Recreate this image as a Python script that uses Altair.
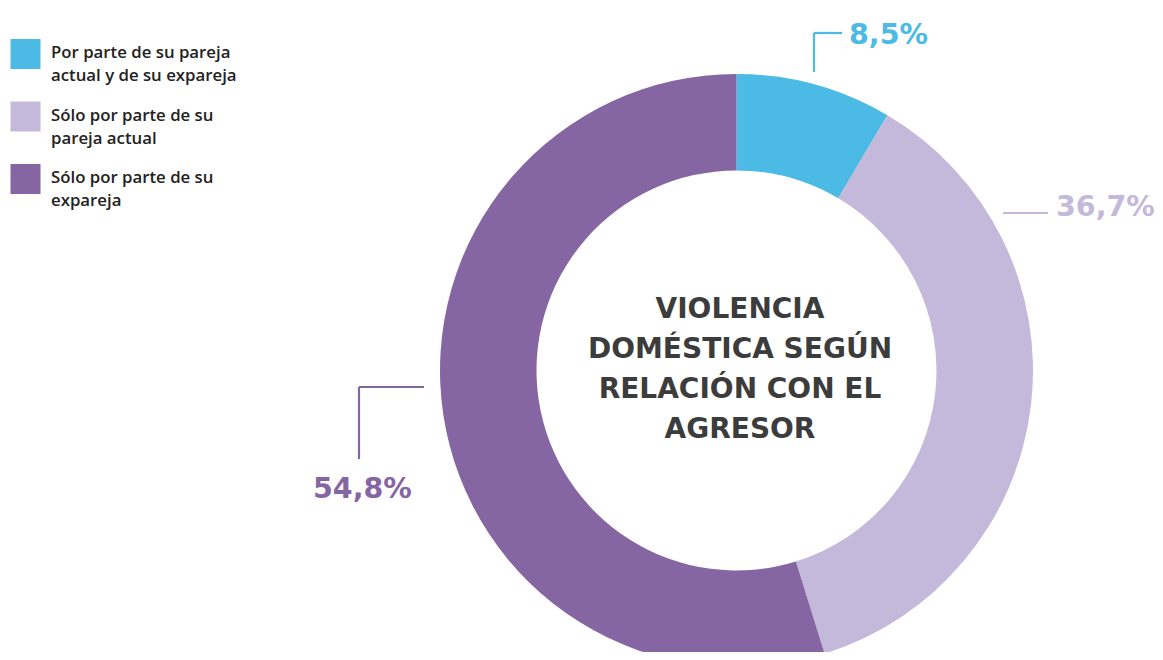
import altair as alt
import pandas as pd

categories = [
    "Por parte de su pareja actual y de su expareja",
    "Sólo por parte de su pareja actual",
    "Sólo por parte de su expareja",
]
legend_lines = [
    ["Por parte de su pareja", "actual y de su expareja"],
    ["Sólo por parte de su", "pareja actual"],
    ["Sólo por parte de su", "expareja"],
]
values = [8.5, 36.7, 54.8]
colors = ["#4BBBE6", "#C4B9DA", "#8565A2"]
center_title = ["VIOLENCIA", "DOMÉSTICA SEGÚN", "RELACIÓN CON EL", "AGRESOR"]

pct_labels = [f"{v:.1f}".replace(".", ",") + "%" for v in values]

df = pd.DataFrame({
    "cat": categories,
    "value": values,
    "idx": list(range(len(categories))),
    "lines": legend_lines,
    "pct": pct_labels,
})

color_scale = alt.Scale(domain=categories, range=colors)
base = alt.Chart(df)

arc = base.mark_arc(innerRadius=200, outerRadius=296.5).encode(
    theta=alt.Theta("value:Q", stack=True),
    order=alt.Order("idx:Q"),
    color=alt.Color("cat:N", scale=color_scale, legend=None),
    x=alt.value(728.5),
    y=alt.value(362.5),
)

leg_y = alt.Y("idx:O", scale=alt.Scale(type="point", range=[46, 171], padding=0), axis=None)
leg_sq = base.mark_square(size=900, opacity=1).encode(
    x=alt.value(17.5),
    y=leg_y,
    color=alt.Color("cat:N", scale=color_scale, legend=None),
)
leg_tx = base.mark_text(
    align="left", baseline="alphabetic", dy=4, lineHeight=23,
    font="Open Sans", fontSize=16.8, fontWeight=600, color="#222222",
).encode(
    x=alt.value(43),
    y=leg_y,
    text="lines",
)

center = alt.Chart(pd.DataFrame({"a": [0]})).mark_text(
    text=center_title, align="center", baseline="alphabetic", lineHeight=40,
    font="DejaVu Sans", fontSize=28, fontWeight="bold", color="#3C3C3C",
).encode(x=alt.value(732), y=alt.value(309.7))

def pct_text(i, x, y):
    return base.transform_filter(alt.datum.idx == i).mark_text(
        align="left", baseline="alphabetic", font="DejaVu Sans", fontSize=28.5,
        fontWeight="bold", color=colors[i],
    ).encode(x=alt.value(x), y=alt.value(y), text="pct:N")

def rule(i, x, x2, y, y2):
    return base.transform_filter(alt.datum.idx == i).mark_rule(
        color=colors[i], strokeWidth=2.2
    ).encode(x=alt.value(x), x2=alt.value(x2), y=alt.value(y), y2=alt.value(y2))

layers = [
    arc, leg_sq, leg_tx, center,
    pct_text(0, 841, 36), pct_text(1, 1048, 208), pct_text(2, 305, 490),
    rule(0, 806, 806, 25, 64), rule(0, 806, 834, 25, 25),
    rule(1, 995, 1040, 205, 205),
    rule(2, 351, 416, 379, 379), rule(2, 351, 351, 379, 451),
]

chart = alt.layer(*layers).properties(
    width=1147, height=644, padding=0,
    autosize=alt.AutoSizeParams(type="none"),
).configure_view(stroke=None)

chart.save("out.html", embed_options={"renderer": "svg", "actions": False})
